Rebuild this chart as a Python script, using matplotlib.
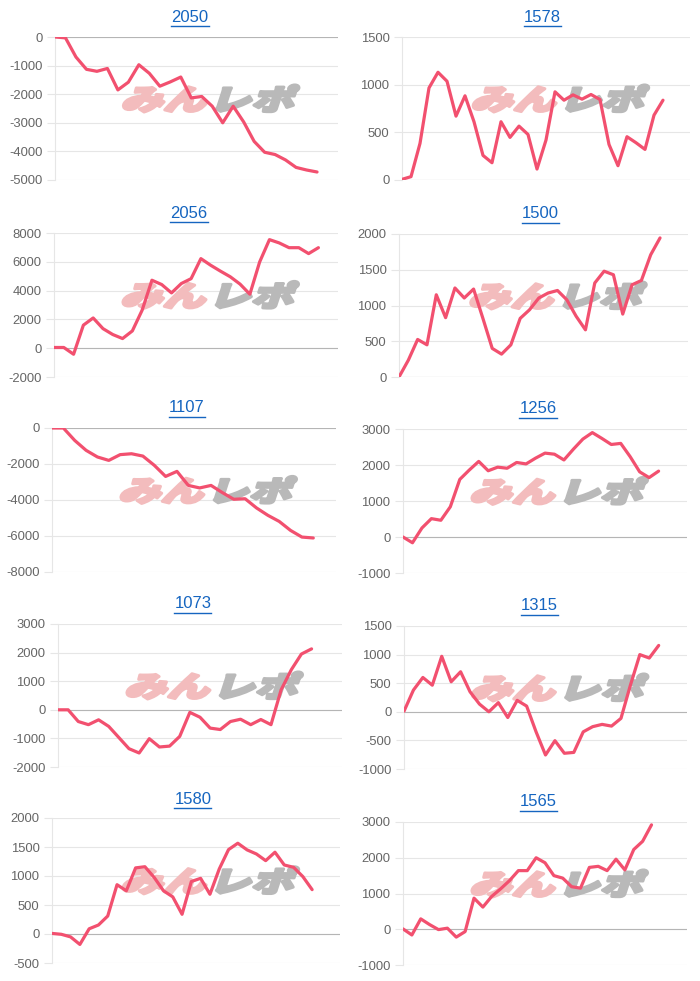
import matplotlib
matplotlib.use("Agg")
import matplotlib.pyplot as plt
import matplotlib.transforms as mtransforms
from matplotlib.textpath import TextPath
from matplotlib.patches import PathPatch
from matplotlib.font_manager import FontProperties
from matplotlib.lines import Line2D

plt.rcParams["axes.unicode_minus"] = False

# ---- data -------------------------------------------------------------
titles = ["2050", "1578", "2056", "1500", "1107", "1256", "1073", "1315", "1580", "1565"]

s2050 = [0, -30, -700, -1130, -1200, -1100, -1850, -1580, -970, -1270, -1720, -1570, -1400,
         -2130, -2080, -2420, -3000, -2420, -2970, -3650, -4030, -4110, -4300, -4560, -4650, -4720]
s1578 = [7, 35, 384, 966, 1130, 1036, 670, 883, 611, 258, 181, 611, 447, 565, 478, 115, 419,
         925, 837, 893, 848, 897, 844, 373, 150, 454, 391, 321, 680, 837]
s2056 = [50, 50, -420, 1600, 2100, 1360, 950, 670, 1200, 2640, 4720, 4420, 3840, 4490, 4830,
         6220, 5760, 5350, 4960, 4450, 3750, 5990, 7540, 7310, 6980, 6980, 6570, 6980]
s1500 = [0, 235, 525, 450, 1150, 830, 1245, 1105, 1230, 820, 400, 320, 450, 820, 940, 1105,
         1175, 1210, 1080, 850, 660, 1315, 1480, 1430, 880, 1290, 1350, 1710, 1945]
s1107 = [0, 0, -690, -1240, -1610, -1800, -1480, -1430, -1560, -2070, -2690, -2410, -3190,
         -3330, -3190, -3590, -3960, -3930, -4440, -4850, -5190, -5690, -6060, -6110]
s1256 = [0, -160, 250, 510, 465, 840, 1600, 1860, 2100, 1840, 1940, 1910, 2070, 2030, 2190,
         2330, 2300, 2140, 2440, 2720, 2900, 2740, 2570, 2600, 2230, 1810, 1650, 1830]
s1073 = [0, 0, -410, -520, -350, -580, -970, -1360, -1510, -1010, -1300, -1270, -930, -90,
         -260, -640, -690, -410, -330, -520, -340, -520, 700, 1400, 1950, 2130]
s1315 = [10, 380, 600, 465, 970, 525, 700, 350, 135, 0, 160, -100, 200, 100, -350, -755,
         -505, -725, -710, -350, -260, -220, -250, -115, 465, 1000, 940, 1160]
s1580 = [10, -5, -50, -180, 90, 155, 310, 850, 745, 1140, 1160, 975, 745, 640, 340, 905,
         960, 685, 1120, 1455, 1565, 1450, 1380, 1265, 1410, 1190, 1150, 990, 765]
s1565 = [10, -160, 290, 130, -10, 30, -220, -65, 870, 620, 920, 1130, 1360, 1640, 1640,
         2000, 1860, 1500, 1430, 1190, 1150, 1730, 1760, 1640, 1960, 1660, 2230, 2460, 2920]

series = [s2050, s1578, s2056, s1500, s1107, s1256, s1073, s1315, s1580, s1565]
# number of x categories on each chart (the later ones have no data yet)
n_labels = [28, 33, 30, 32, 26, 31, 29, 31, 32, 33]
# y axis (min, max, step)
y_ranges = [(-5000, 0, 1000), (0, 1500, 500), (-2000, 8000, 2000), (0, 2000, 500),
            (-8000, 0, 2000), (-1000, 3000, 1000), (-2000, 3000, 1000), (-1000, 1500, 500),
            (-500, 2000, 500), (-1000, 3000, 1000)]

# ---- layout (pixels: left, top, right, bottom) ---------------------------
W, H = 700, 981
boxes = [(55, 37, 338, 180), (402, 37, 690, 180),
         (54, 233, 338, 377), (399, 234, 688, 377),
         (52, 428, 336, 572), (403, 429, 687, 573),
         (58, 624, 342, 767), (404, 626, 687, 769),
         (52, 818, 340, 963), (403, 822, 687, 965)]
title_pos = [(190, 17), (542, 17), (189, 213), (540, 214), (187, 408),
             (538, 409), (193, 604), (539, 606), (193, 799), (538, 802)]

LINE = "#f2506f"
GRID = "#e6e6e6"
ZERO = "#b5b5b5"
LINK = "#1565c0"

fig = plt.figure(figsize=(W / 100, H / 100), dpi=100)
fig.patch.set_facecolor("white")

jp = FontProperties(family="Noto Sans CJK JP", weight="heavy")


def add_logo(ax):
    p1 = TextPath((0, 0), "みん", size=30, prop=jp)
    e1 = p1.get_extents()
    p2 = TextPath((e1.x1 + 3, 0), "レポ", size=30, prop=jp)
    e2 = p2.get_extents()
    x0, x1 = e1.x0, e2.x1
    y0, y1 = min(e1.y0, e2.y0), max(e1.y1, e2.y1)
    # target size in points (170 x 28 px), strokes thicken it afterwards
    sx = 170 * 0.72 / (x1 - x0)
    sy = 27 * 0.72 / (y1 - y0)
    tr = (mtransforms.Affine2D()
          .translate(-(x0 + x1) / 2, -(y0 + y1) / 2)
          .scale(sx, sy)
          .skew_deg(18, 0)
          .scale(1 / 72.)
          + fig.dpi_scale_trans
          + mtransforms.ScaledTranslation(0.55, 0.57, ax.transAxes))
    for path, col in [(p1, "#f3bcbd"), (p2, "#b9b9b9")]:
        ax.add_patch(PathPatch(path, transform=tr, facecolor=col, edgecolor=col,
                               lw=2.2, joinstyle="round", zorder=1.5, clip_on=False))


title_texts = []
for i, vals in enumerate(series):
    l, t, r, b = boxes[i]
    ax = fig.add_axes([l / W, 1 - b / H, (r - l) / W, (b - t) / H])
    ymin, ymax, step = y_ranges[i]

    ax.plot(range(len(vals)), vals, color=LINE, lw=2.3, solid_joinstyle="round",
            solid_capstyle="round", zorder=3)
    ax.set_xlim(0, n_labels[i] - 1)
    ax.set_ylim(ymin, ymax)
    ax.set_yticks(range(ymin, ymax + 1, step))
    ax.set_xticks([])
    ax.yaxis.grid(True, color=GRID, lw=0.8)
    ax.set_axisbelow(True)
    ax.axhline(0, color=ZERO, lw=0.8, zorder=1)
    for sp in ["top", "right", "bottom"]:
        ax.spines[sp].set_visible(False)
    ax.spines["left"].set_color(GRID)
    ax.spines["left"].set_linewidth(0.8)
    ax.tick_params(axis="y", length=6, width=0.8, color=GRID, labelcolor="#666666",
                   labelsize=9.4, pad=3)
    for lab in ax.get_yticklabels():
        lab.set_fontfamily("Liberation Sans")
    add_logo(ax)

    tx, ty = title_pos[i]
    txt = fig.text(tx / W, 1 - ty / H, titles[i], ha="center", va="center",
                   color=LINK, fontsize=12, family="Liberation Sans")
    title_texts.append(txt)

# underline the titles (they are links)
fig.canvas.draw()
rend = fig.canvas.get_renderer()
for txt in title_texts:
    bb = txt.get_window_extent(rend)
    y = bb.y0 - 1.5
    fig.add_artist(Line2D([bb.x0 / W, bb.x1 / W], [y / H, y / H], color=LINK, lw=1.0,
                          transform=fig.transFigure))

fig.savefig("out.png", dpi=100, facecolor="white")
